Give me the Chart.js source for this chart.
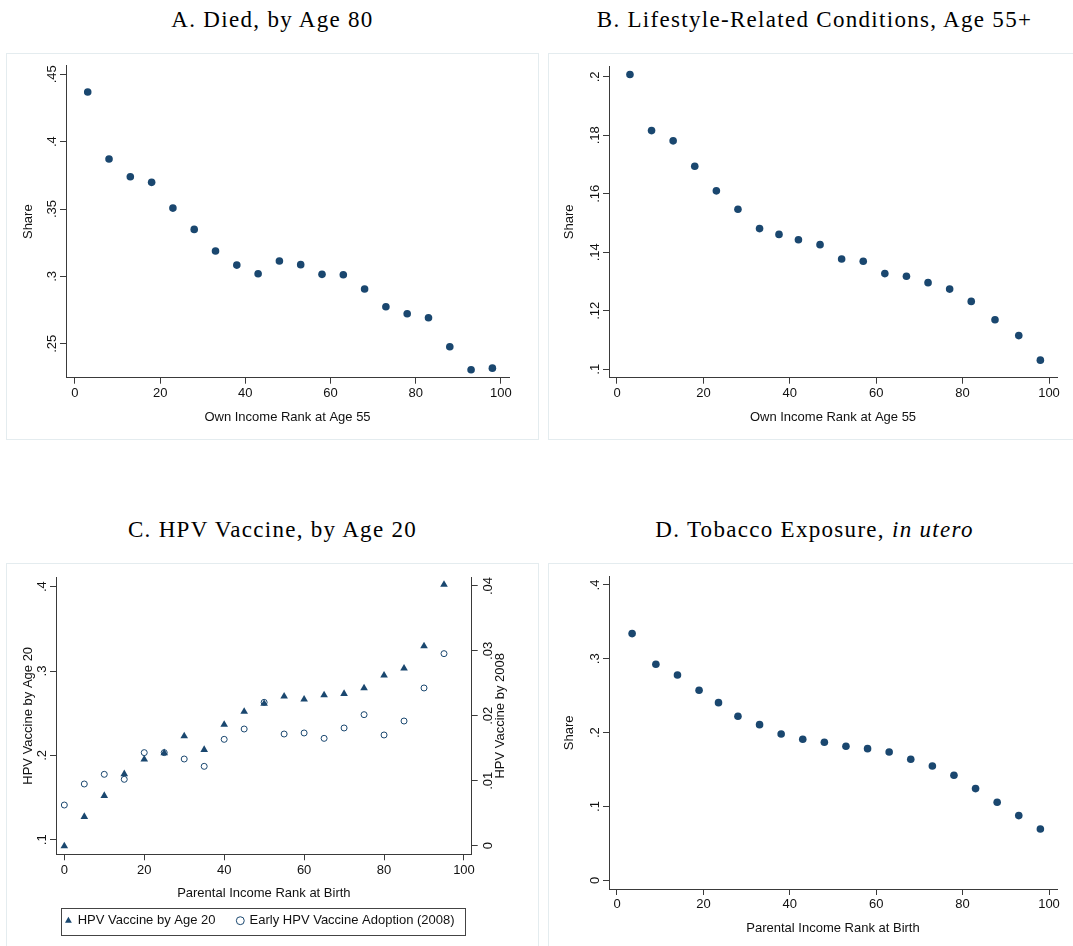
<!DOCTYPE html>
<html lang="en">
<head>
<meta charset="utf-8">
<title>Health outcomes by income rank</title>
<script src="https://cdn.jsdelivr.net/npm/chart.js@4.4.1/dist/chart.umd.min.js"></script>
<style>
  html, body { margin: 0; padding: 0; background: #fff; }
  body { position: relative; width: 1073px; height: 946px; overflow: hidden; }
  .panel-title {
    position: absolute; width: 533px; text-align: center; white-space: nowrap;
    font-family: "Liberation Serif", "Times New Roman", serif;
    font-size: 23px; line-height: 23px; letter-spacing: 1.3px; color: #000;
  }
  .frame { position: absolute; width: 533px; box-sizing: border-box; border: 1px solid #e4ecef; }
  canvas { position: absolute; }
</style>
</head>
<body>

<div class="panel-title" style="left:6px; top:7.5px">A. Died, by Age 80</div>
<div class="panel-title" style="left:548px; top:7.5px">B. Lifestyle-Related Conditions, Age 55+</div>
<div class="panel-title" style="left:6px; top:518.4px">C. HPV Vaccine, by Age 20</div>
<div class="panel-title" style="left:548px; top:518.4px">D. Tobacco Exposure, <i>in utero</i></div>

<div class="frame" style="left:6px; top:53px; height:387px"></div>
<div class="frame" style="left:548px; top:53px; height:387px"></div>
<div class="frame" style="left:6px; top:563px; height:400px"></div>
<div class="frame" style="left:548px; top:563px; height:400px"></div>

<canvas id="chartA" width="533" height="387" style="left:6px; top:53px"></canvas>
<canvas id="chartB" width="533" height="387" style="left:548px; top:53px"></canvas>
<canvas id="chartC" width="533" height="383" style="left:6px; top:563px"></canvas>
<canvas id="chartD" width="533" height="383" style="left:548px; top:563px"></canvas>

<script>
// Panel A: died by age 80, by own income rank at 55
const rankA = [3, 8, 13, 18, 23, 28, 33, 38, 43, 48, 53, 58, 63, 68, 73, 78, 83, 88, 93, 98];
const diedA = [0.4369, 0.3871, 0.3740, 0.3698, 0.3507, 0.3349, 0.3188, 0.3084, 0.3020, 0.3114,
               0.3087, 0.3015, 0.3012, 0.2906, 0.2775, 0.2723, 0.2693, 0.2478, 0.2307, 0.2319];

// Panel B: lifestyle-related conditions, age 55+
const rankB = [3, 8, 13, 18, 23, 28, 33, 37.5, 42, 47, 52, 57, 62, 67, 72, 77, 82, 87.5, 93, 98];
const lifestyleB = [0.2008, 0.1816, 0.1781, 0.1694, 0.1610, 0.1547, 0.1481, 0.1461, 0.1443, 0.1426,
                    0.1377, 0.1369, 0.1327, 0.1318, 0.1296, 0.1274, 0.1232, 0.1169, 0.1115, 0.1031];

// Panel C: HPV vaccine by parental income rank (two series, two y axes)
const rankC = [0, 5, 10, 15, 20, 25, 30, 35, 40, 45, 50, 55, 60, 65, 70, 75, 80, 85, 90, 95];
const hpvByAge20 = [0.0925, 0.1273, 0.1522, 0.1779, 0.1953, 0.2028, 0.2229, 0.2067, 0.2364, 0.2518,
                    0.2613, 0.2700, 0.2664, 0.2715, 0.2731, 0.2798, 0.2949, 0.3032, 0.3296, 0.4024];
const hpvEarly2008 = [0.00626, 0.00950, 0.01099, 0.01022, 0.01433, 0.01433, 0.01335, 0.01222, 0.01638, 0.01797,
                      0.02208, 0.01720, 0.01736, 0.01653, 0.01813, 0.02018, 0.01705, 0.01920, 0.02429, 0.02958];

// Panel D: tobacco exposure in utero
const rankD = [3.5, 9, 14, 19, 23.5, 28, 33, 38, 43, 48, 53, 58, 63, 68, 73, 78, 83, 88, 93, 98];
const tobaccoD = [0.3341, 0.2926, 0.2781, 0.2573, 0.2406, 0.2221, 0.2108, 0.1982, 0.1910, 0.1869,
                  0.1815, 0.1783, 0.1738, 0.1639, 0.1549, 0.1422, 0.1242, 0.1056, 0.0876, 0.0695];

// Tick values and their Stata-style labels
const rankTicks = [0, 20, 40, 60, 80, 100];
const rankTickLabels = ['0', '20', '40', '60', '80', '100'];
const ticksA = [0.25, 0.3, 0.35, 0.4, 0.45];
const tickLabelsA = ['.25', '.3', '.35', '.4', '.45'];
const ticksB = [0.1, 0.12, 0.14, 0.16, 0.18, 0.2];
const tickLabelsB = ['.1', '.12', '.14', '.16', '.18', '.2'];
const ticksC = [0.1, 0.2, 0.3, 0.4];
const tickLabelsC = ['.1', '.2', '.3', '.4'];
const ticksC2 = [0, 0.01, 0.02, 0.03, 0.04];
const tickLabelsC2 = ['0', '.01', '.02', '.03', '.04'];
const ticksD = [0, 0.1, 0.2, 0.3, 0.4];
const tickLabelsD = ['0', '.1', '.2', '.3', '.4'];

const NAVY = '#1a476f';
const TEXT = '#111111';
const AXIS = '#3a3a3a';
const FONT = '"Liberation Sans", Arial, sans-serif';

Chart.defaults.font.family = FONT;
Chart.defaults.font.size = 13;
Chart.defaults.color = TEXT;

document.addEventListener('DOMContentLoaded', function () {

    // Y tick labels run bottom-to-top in Stata, Chart.js can't rotate them on a vertical axis
    const verticalTicks = {
        id: 'verticalTicks',
        afterDraw(chart, args, opts) {
            const ctx = chart.ctx;
            ctx.save();
            ctx.font = '13px ' + FONT;
            ctx.fillStyle = TEXT;
            ctx.textAlign = 'center';
            ctx.textBaseline = 'middle';
            (opts.axes || []).forEach(function (a) {
                const scale = chart.scales[a.id];
                const right = scale.position === 'right';
                const x = right ? scale.left + a.offset : scale.right - a.offset;
                scale.ticks.forEach(function (t, i) {
                    const y = scale.getPixelForValue(t.value);
                    ctx.save();
                    ctx.translate(x, y);
                    ctx.rotate(-Math.PI / 2);
                    ctx.fillText(a.labels[i], 0, 0);
                    ctx.restore();
                });
            });
            // right-hand axis title, same reading direction as the left one
            const st = opts.sideTitle;
            if (st) {
                const scale = chart.scales[st.axis];
                ctx.save();
                ctx.translate(scale.left + st.offset, (chart.chartArea.top + chart.chartArea.bottom) / 2);
                ctx.rotate(-Math.PI / 2);
                ctx.fillText(st.text, 0, 0);
                ctx.restore();
            }
            ctx.restore();
        }
    };

    // thin box around the legend row
    const legendFrame = {
        id: 'legendFrame',
        afterDraw(chart) {
            const boxes = chart.legend && chart.legend.legendHitBoxes;
            if (!boxes || !boxes.length) return;
            const first = boxes[0];
            const last = boxes[boxes.length - 1];
            const midY = first.top + first.height / 2;
            const left = Math.round(first.left - 5) + 0.5;
            const right = Math.round(last.left + last.width + 10) + 0.5;
            const top = Math.round(midY - 12.5) + 0.5;
            const ctx = chart.ctx;
            ctx.save();
            ctx.strokeStyle = '#444';
            ctx.lineWidth = 1;
            ctx.strokeRect(left, top, right - left, 27);
            ctx.restore();
        }
    };

    function points(xs, ys) {
        return xs.map(function (x, i) { return { x: x, y: ys[i] }; });
    }

    function xAxis(o) {
        return {
            type: 'linear',
            position: 'bottom',
            min: o.min,
            max: o.max,
            afterBuildTicks: function (s) { s.ticks = rankTicks.map(function (v) { return { value: v }; }); },
            afterFit: function (s) { s.height = o.height; },
            ticks: {
                autoSkip: false, maxRotation: 0, padding: 2, color: TEXT,
                callback: function (v, i) { return rankTickLabels[i]; }
            },
            grid: { drawOnChartArea: false, drawTicks: true, tickLength: 6, color: AXIS, lineWidth: 1 },
            border: { display: true, color: AXIS, width: 1 },
            title: { display: true, text: o.title, color: TEXT, padding: { top: 0, bottom: o.titlePad } }
        };
    }

    function yAxis(o) {
        return {
            type: 'linear',
            position: o.position || 'left',
            min: o.min,
            max: o.max,
            afterBuildTicks: function (s) { s.ticks = o.values.map(function (v) { return { value: v }; }); },
            afterFit: function (s) { s.width = o.width; },
            ticks: { display: false },
            grid: { drawOnChartArea: false, drawTicks: true, tickLength: 6, color: AXIS, lineWidth: 1 },
            border: { display: true, color: AXIS, width: 1 },
            title: {
                display: !!o.title, text: o.title || '', color: TEXT,
                padding: { top: o.titlePad || 0, bottom: 0 }
            }
        };
    }

    function dots(label, xs, ys, axis) {
        return {
            label: label,
            data: points(xs, ys),
            yAxisID: axis || 'y',
            pointStyle: 'circle',
            pointRadius: 3.8,
            pointBackgroundColor: NAVY,
            backgroundColor: NAVY,
            borderColor: NAVY,
            borderWidth: 0
        };
    }

    function baseOptions(padding, scales, plugins) {
        return {
            responsive: false,
            animation: false,
            devicePixelRatio: 1,
            events: [],
            layout: { padding: padding },
            scales: scales,
            plugins: Object.assign({
                legend: { display: false },
                tooltip: { enabled: false },
                title: { display: false }
            }, plugins)
        };
    }

    // A. Died, by Age 80
    new Chart(document.getElementById('chartA'), {
        type: 'scatter',
        data: { datasets: [dots('Share', rankA, diedA)] },
        options: baseOptions(
            { left: 0, right: 30, top: 12.7, bottom: 0 },
            {
                x: xAxis({ min: -2.1, max: 101.9, height: 62.3, title: 'Own Income Rank at Age 55', titlePad: 14.5 }),
                y: yAxis({ min: 0.2248, max: 0.4564, values: ticksA, width: 60, title: 'Share', titlePad: 14.5 })
            },
            { verticalTicks: { axes: [{ id: 'y', labels: tickLabelsA, offset: 13.5 }] } }
        ),
        plugins: [verticalTicks]
    });

    // B. Lifestyle-Related Conditions, Age 55+
    new Chart(document.getElementById('chartB'), {
        type: 'scatter',
        data: { datasets: [dots('Share', rankB, lifestyleB)] },
        options: baseOptions(
            { left: 0, right: 24, top: 13, bottom: 0 },
            {
                x: xAxis({ min: -1.85, max: 101.85, height: 62.3, title: 'Own Income Rank at Age 55', titlePad: 14.5 }),
                y: yAxis({ min: 0.0971, max: 0.2037, values: ticksB, width: 61, title: 'Share', titlePad: 13.9 })
            },
            { verticalTicks: { axes: [{ id: 'y', labels: tickLabelsB, offset: 13.5 }] } }
        ),
        plugins: [verticalTicks]
    });

    // C. HPV Vaccine, by Age 20 -- triangles on the left axis, hollow circles on the right
    new Chart(document.getElementById('chartC'), {
        type: 'scatter',
        data: {
            datasets: [
                {
                    label: 'HPV Vaccine by Age 20',
                    data: points(rankC, hpvByAge20),
                    yAxisID: 'y',
                    pointStyle: 'triangle',
                    pointRadius: 4.4,
                    backgroundColor: NAVY,
                    borderColor: NAVY,
                    borderWidth: 0
                },
                {
                    label: 'Early HPV Vaccine Adoption (2008)',
                    data: points(rankC, hpvEarly2008),
                    yAxisID: 'y2',
                    pointStyle: 'circle',
                    pointRadius: 3,
                    backgroundColor: 'rgba(0,0,0,0)',
                    borderColor: NAVY,
                    borderWidth: 1
                }
            ]
        },
        options: baseOptions(
            { left: 0, right: 24.8, top: 14.3, bottom: 8.8 },
            {
                x: xAxis({ min: -2.08, max: 101.93, height: 37.9, title: 'Parental Income Rank at Birth', titlePad: -8.9 }),
                y: yAxis({ min: 0.0827, max: 0.4111, values: ticksC, width: 50, title: 'HPV Vaccine by Age 20', titlePad: 14.5 }),
                y2: yAxis({ position: 'right', min: -0.00133, max: 0.04134, values: ticksC2, width: 42.5 })
            },
            {
                legend: {
                    display: true,
                    position: 'bottom',
                    labels: { usePointStyle: true, boxWidth: 5.6, boxHeight: 5.6, padding: 22, color: TEXT, font: { size: 13 } }
                },
                verticalTicks: {
                    axes: [
                        { id: 'y', labels: tickLabelsC, offset: 14 },
                        { id: 'y2', labels: tickLabelsC2, offset: 17 }
                    ],
                    sideTitle: { axis: 'y2', text: 'HPV Vaccine by 2008', offset: 28.3 }
                }
            }
        ),
        plugins: [verticalTicks, legendFrame]
    });

    // D. Tobacco Exposure, in utero
    new Chart(document.getElementById('chartD'), {
        type: 'scatter',
        data: { datasets: [dots('Share', rankD, tobaccoD)] },
        options: baseOptions(
            { left: 0, right: 24, top: 13.7, bottom: 0 },
            {
                x: xAxis({ min: -1.85, max: 101.85, height: 57, title: 'Parental Income Rank at Birth', titlePad: 9.5 }),
                y: yAxis({ min: -0.0118, max: 0.4112, values: ticksD, width: 61, title: 'Share', titlePad: 13.9 })
            },
            { verticalTicks: { axes: [{ id: 'y', labels: tickLabelsD, offset: 13.5 }] } }
        ),
        plugins: [verticalTicks]
    });
});
</script>
</body>
</html>
